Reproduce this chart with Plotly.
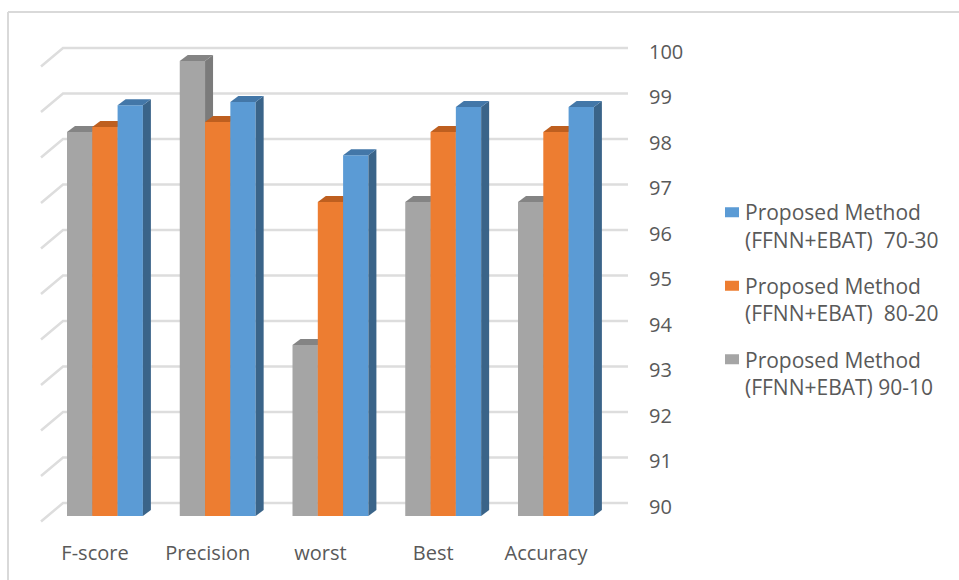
import plotly.graph_objects as go

categories = ["F-score", "Precision", "worst", "Best", "Accuracy"]
ratio_90_10 = [98.44, 100.0, 93.76, 96.9, 96.9]
ratio_80_20 = [98.55, 98.66, 96.9, 98.44, 98.44]
ratio_70_30 = [99.03, 99.1, 97.93, 98.99, 98.99]
tick_values = [90, 91, 92, 93, 94, 95, 96, 97, 98, 99, 100]

series = [
    ("Proposed Method<br>(FFNN+EBAT) 90-10", ratio_90_10, "#A5A5A5", "#7B7B7B", "#848484", 3),
    ("Proposed Method<br>(FFNN+EBAT)  80-20", ratio_80_20, "#ED7D31", "#B55F25", "#BE5F1F", 2),
    ("Proposed Method<br>(FFNN+EBAT)  70-30", ratio_70_30, "#5B9BD5", "#3A6489", "#4377A8", 1),
]

# Canvas and plot-area geometry, in pixels
W, H = 959, 580
PLOT_L, PLOT_R, PLOT_T, PLOT_B = 30, 628, 40, 530
PX_PER_UNIT = 45.5
PX_PER_CAT = 112.75
CAT0_PX = 95

BASE = 90
LABEL_90_PX = 506.5   # where the value-axis labels sit
FRONT_90_PX = 516     # where the bars' front faces meet the floor
BACK_90_PX = 503      # back wall
FLOOR_90_PX = 521.5   # front edge of the floor
WALL_LEFT_PX, FLOOR_LEFT_PX = 63, 41

BAR_W = 25.3
BAR0_PX = 67
DEPTH_X, DEPTH_Y = 8, 6


def dx(px):
    return px / PX_PER_CAT


def dy(px):
    return px / PX_PER_UNIT


def range_for(base_px):
    low = BASE - (PLOT_B - base_px) / PX_PER_UNIT
    return [low, low + (PLOT_B - PLOT_T) / PX_PER_UNIT]


def paper_x(px):
    return (px - PLOT_L) / (PLOT_R - PLOT_L)


def paper_y(px):
    return 1 - (px - PLOT_T) / (PLOT_B - PLOT_T)


fig = go.Figure()

# Back wall and floor gridlines, one bent line per tick
grid_x, grid_y = [], []
wall_off = dy(LABEL_90_PX - BACK_90_PX)
floor_off = dy(FLOOR_90_PX - LABEL_90_PX)
x_floor = dx(FLOOR_LEFT_PX - CAT0_PX)
x_wall = dx(WALL_LEFT_PX - CAT0_PX)
x_end = dx(PLOT_R - CAT0_PX)
for t in tick_values:
    grid_x += [x_floor, x_wall, x_end, None]
    grid_y += [t - floor_off, t + wall_off, t + wall_off, None]
fig.add_trace(go.Scatter(x=grid_x, y=grid_y, mode="lines", showlegend=False, hoverinfo="skip",
                         line=dict(color="#DDDDDD", width=2.5), xaxis="x", yaxis="y"))

# Each series lives on its own overlaid value axis so later bars paint over earlier side faces
bar_offset0 = dx(BAR0_PX - CAT0_PX)
for k, (name, values, colour, side, top, rank) in enumerate(series):
    axis = f"y{k + 2}"
    left = bar_offset0 + k * dx(BAR_W)
    right = left + dx(BAR_W)
    fig.add_trace(go.Bar(x=list(range(len(categories))), y=[v - BASE for v in values], base=BASE,
                         offset=left, width=dx(BAR_W), marker=dict(color=colour, line=dict(width=0)),
                         showlegend=False, xaxis="x", yaxis=axis,
                         customdata=values, hovertemplate="%{customdata}<extra></extra>"))
    for i, v in enumerate(values):
        xl, xr = i + left, i + right
        # right-hand side face
        fig.add_trace(go.Scatter(
            x=[xr, xr + dx(DEPTH_X), xr + dx(DEPTH_X), xr, xr],
            y=[BASE, BASE + dy(DEPTH_Y), v + dy(DEPTH_Y), v, BASE],
            mode="lines", fill="toself", fillcolor=side, line=dict(width=0),
            showlegend=False, hoverinfo="skip", xaxis="x", yaxis=axis))
        # top face
        fig.add_trace(go.Scatter(
            x=[xl, xl + dx(DEPTH_X), xr + dx(DEPTH_X), xr, xl],
            y=[v, v + dy(DEPTH_Y), v + dy(DEPTH_Y), v, v],
            mode="lines", fill="toself", fillcolor=top, line=dict(width=0),
            showlegend=False, hoverinfo="skip", xaxis="x", yaxis=axis))
    # legend key: a thick dashed line whose single dash forms a square close to the text
    fig.add_trace(go.Scatter(x=[None], y=[None], mode="lines", name=name, legendgroup=name,
                             legendrank=rank,
                             line=dict(width=14, color=colour, dash="0px,15px,14px,100px"),
                             xaxis="x", yaxis=axis))

FONT = "Open Sans"
TEXT = "#595959"
FRAME = "#D9D9D9"
overlay = dict(overlaying="y", visible=False, range=range_for(FRONT_90_PX), fixedrange=True)
fig.update_layout(
    width=W, height=H, autosize=False,
    margin=dict(l=PLOT_L, r=W - PLOT_R, t=PLOT_T, b=H - PLOT_B, autoexpand=False),
    paper_bgcolor="white", plot_bgcolor="rgba(0,0,0,0)",
    font=dict(family=FONT, size=20, color=TEXT),
    xaxis=dict(range=[dx(PLOT_L - CAT0_PX), dx(PLOT_R - CAT0_PX)], tickmode="array",
               tickvals=list(range(len(categories))), ticktext=categories, showgrid=False,
               zeroline=False, showline=False, ticks="outside", ticklen=5,
               tickcolor="rgba(0,0,0,0)", tickfont=dict(size=20)),
    yaxis=dict(range=range_for(LABEL_90_PX), side="right", tickmode="array", tickvals=tick_values,
               showgrid=False, zeroline=False, showline=False, ticks="outside", ticklen=16,
               tickcolor="rgba(0,0,0,0)", tickfont=dict(size=20)),
    yaxis2=overlay, yaxis3=overlay, yaxis4=overlay,
    legend=dict(x=paper_x(705), xanchor="left", y=paper_y(192), yanchor="top", traceorder="grouped",
                valign="top", tracegroupgap=16, itemwidth=30, font=dict(size=21),
                bgcolor="rgba(0,0,0,0)"),
    # chart frame: only the top and left edges are drawn
    shapes=[
        dict(type="line", xref="paper", yref="paper", x0=paper_x(8), x1=paper_x(W),
             y0=paper_y(12), y1=paper_y(12), line=dict(color=FRAME, width=2)),
        dict(type="line", xref="paper", yref="paper", x0=paper_x(8), x1=paper_x(8),
             y0=paper_y(12), y1=paper_y(H), line=dict(color=FRAME, width=2)),
    ],
    showlegend=True,
)
fig.write_html("out.html")
